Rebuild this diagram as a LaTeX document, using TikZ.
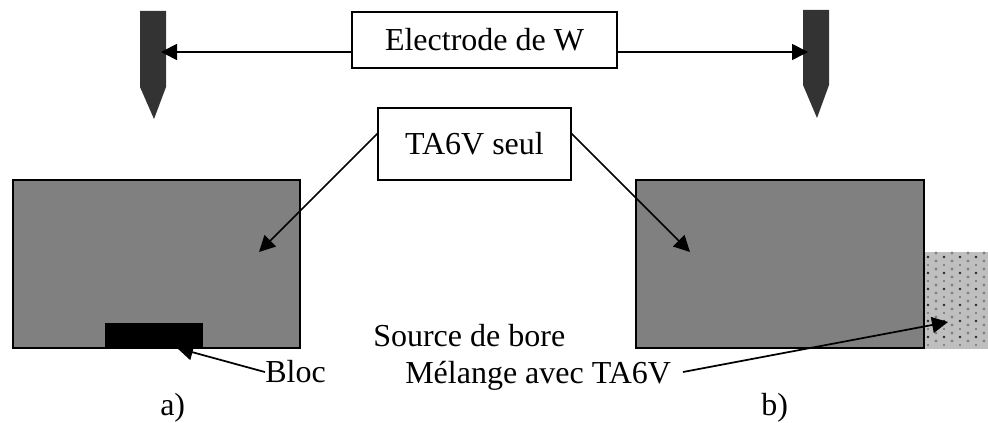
\documentclass[tikz,border=0pt]{standalone}
\usepackage{fontspec}
\setmainfont{Liberation Serif}
\usetikzlibrary{arrows.meta}
\definecolor{blocgray}{gray}{0.5}
\definecolor{tipgray}{gray}{0.2}
\definecolor{sourcegray}{gray}{0.75}
\tikzset{
  labelbox/.style={draw=black, line width=1.1pt, fill=white, inner sep=0pt},
  plain/.style={inner sep=0pt, anchor=base west},
  pointer/.style={line width=1.3pt, -{Triangle[length=12pt,width=12pt]}},
}
\begin{document}
\begin{tikzpicture}[x=0.75pt, y=-0.75pt, font=\fontsize{24}{26}\selectfont]
\useasboundingbox (0,0) rectangle (988,423);
% titanium blocks
\draw[fill=blocgray, line width=1.2pt] (13,180) rectangle (300,348);
\draw[fill=blocgray, line width=1.2pt] (636,180) rectangle (924,348);
\fill[black] (105,323) rectangle (203,349);
% boron source
\fill[sourcegray] (925,252) rectangle (988,349);
\foreach \i in {0,...,3} {
  \foreach \j in {0,...,5} {
    \fill[black!85] (928+\i*16,257+\j*16) circle (1.1pt);
    \fill[black!70] (928+\i*16,265+\j*16) circle (0.7pt);
  }
  \foreach \j in {0,...,11} {
    \fill[black!50] (936+\i*16,253+\j*8) circle (1.2pt);
  }
}
% electrodes
\fill[tipgray] (140,11) -- (166,11) -- (166,87) -- (154,119) -- (140,87) -- cycle;
\fill[tipgray] (803,10) -- (829,10) -- (829,85) -- (817,118) -- (803,85) -- cycle;
% labels
\node[labelbox, minimum width=199pt, minimum height=42pt] (electrode) at (484.5,40) {Electrode de W};
\node[labelbox, minimum width=145pt, minimum height=54pt] (seul) at (474.5,144) {TA6V seul};
\node[plain] (source) at (373,347) {Source de bore};
\node[plain] (melange) at (405,384) {Mélange avec TA6V};
\node[plain] (bloc) at (265,383) {Bloc};
\node[plain] (a) at (160,416) {a)};
\node[plain] (b) at (761,416) {b)};
% arrow ends
\coordinate (tipL) at (161,52);
\coordinate (tipR) at (808,52);
\coordinate (seulL) at (378,133);
\coordinate (seulR) at (571,133);
\coordinate (blocL) at (259,252);
\coordinate (blocR) at (690,252);
\coordinate (blocB) at (177,348);
\coordinate (mixA) at (683,372);
\coordinate (mixB) at (948,322);
\draw[pointer] (electrode.west |- tipL) -- (tipL);
\draw[pointer] (electrode.east |- tipR) -- (tipR);
\draw[pointer] (seulL) -- (blocL);
\draw[pointer] (seulR) -- (blocR);
\draw[pointer] (bloc.west) -- (blocB);
\draw[pointer] (mixA) -- (mixB);
\end{tikzpicture}
\end{document}
